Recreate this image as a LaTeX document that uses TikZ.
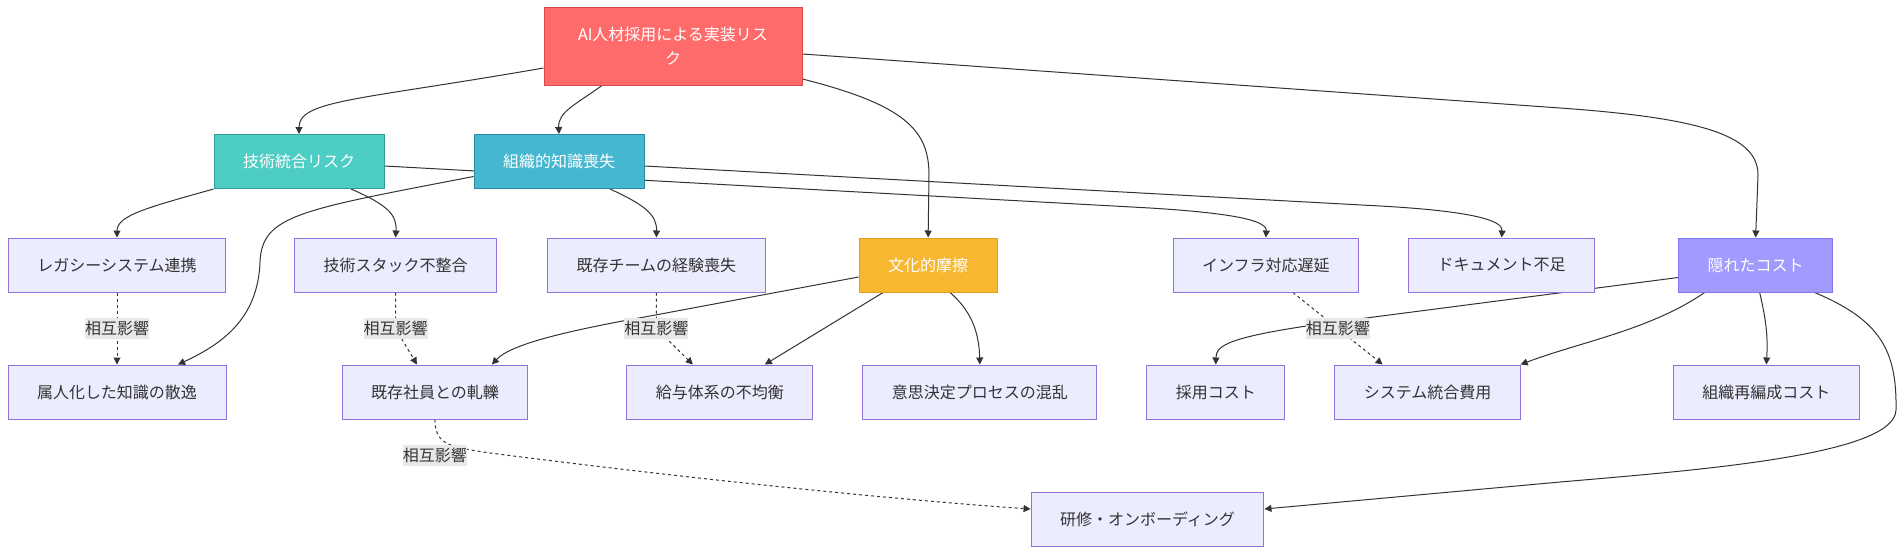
\documentclass[tikz,border=0pt]{standalone}
\usepackage{fontspec}
\setmainfont{Noto Sans CJK JP}
\usepackage{xcolor}
\usepackage{tikz}
\usetikzlibrary{arrows.meta,positioning,backgrounds}

\definecolor{rootfill}{HTML}{FF6B6B}
\definecolor{rootline}{HTML}{D94A4A}
\definecolor{techfill}{HTML}{4ECDC4}
\definecolor{techline}{HTML}{2E9E96}
\definecolor{orgfill}{HTML}{45B7D1}
\definecolor{orgline}{HTML}{2C8BA3}
\definecolor{culturefill}{HTML}{F7B731}
\definecolor{cultureline}{HTML}{E0A020}
\definecolor{hiddenfill}{HTML}{A29BFE}
\definecolor{hiddenline}{HTML}{7F75F0}
\definecolor{leaffill}{HTML}{ECECFF}
\definecolor{leafline}{HTML}{9370DB}
\definecolor{edgecol}{HTML}{333333}
\definecolor{lblfill}{HTML}{E8E8E8}

\begin{document}
\begin{tikzpicture}[
    x=1pt, y=-1pt,
    font=\fontsize{16pt}{24pt}\selectfont,
    box/.style={rectangle, draw, line width=1pt, inner xsep=29pt, minimum height=54pt, align=center},
    leaf/.style={box, fill=leaffill, draw=leafline, text=edgecol},
    rootbox/.style={box, fill=rootfill, draw=rootline, text=white, minimum width=258pt, minimum height=78pt},
    techbox/.style={box, fill=techfill, draw=techline, text=white},
    orgbox/.style={box, fill=orgfill, draw=orgline, text=white},
    culturebox/.style={box, fill=culturefill, draw=cultureline, text=white},
    hiddenbox/.style={box, fill=hiddenfill, draw=hiddenline, text=white},
    arrow/.style={->, >={Triangle[length=7pt, width=7pt]}, draw=edgecol, line width=1pt},
    dotarrow/.style={arrow, dash pattern=on 3pt off 3pt},
    lbl/.style={fill=lblfill, text=edgecol, inner sep=0pt, minimum height=21pt}
]
\useasboundingbox (0,0) rectangle (1904,554);

\node[rootbox] (root) at (673,46) {AI人材採用による実装リス\\ク};

\node[techbox] (tech) at (299,161.5) {技術統合リスク};
\node[orgbox, right=89pt of tech] (org) {組織的知識喪失};

\node[leaf] (legacy) at (117,265) {レガシーシステム連携};
\node[leaf, right=68pt of legacy] (stack) {技術スタック不整合};
\node[leaf, right=50pt of stack] (exp) {既存チームの経験喪失};
\node[culturebox, right=93pt of exp] (culture) {文化的摩擦};
\node[leaf, right=175pt of culture] (infra) {インフラ対応遅延};
\node[leaf, right=49pt of infra] (doc) {ドキュメント不足};
\node[hiddenbox, right=83pt of doc] (hidden) {隠れたコスト};

\node[leaf] (zokujin) at (117,392) {属人化した知識の散逸};
\node[leaf, right=115pt of zokujin] (shain) {既存社員との軋轢};
\node[leaf, right=98pt of shain] (kyuyo) {給与体系の不均衡};
\node[leaf, right=49pt of kyuyo] (ishi) {意思決定プロセスの混乱};
\node[leaf, right=49pt of ishi] (saiyo) {採用コスト};
\node[leaf, right=49pt of saiyo] (togo) {システム統合費用};
\node[leaf, right=152pt of togo] (saihen) {組織再編成コスト};

\node[leaf] (kenshu) at (1147.5,519) {研修・オンボーディング};

\begin{pgfonlayer}{background}
\draw[arrow] ([yshift=-22pt]root.west) .. controls (360,100) and (299,100) .. (tech.north);
\draw[arrow] ([xshift=-71pt]root.south) .. controls (575,105) and (558,112) .. (org.north);
\draw[arrow] ([yshift=-33pt]root.east) .. controls (905,105) and (929,130) .. (929,175) -- (culture.north);
\draw[arrow] ([yshift=-8pt]root.east) -- (1560,108) .. controls (1700,118) and (1758,135) .. (1758,175) -- (hidden.north);

\draw[arrow] (tech.south west) .. controls (150,207) and (117,215) .. (legacy.north);
\draw[arrow] ([xshift=52pt]tech.south) .. controls (388,205) and (397,215) .. (stack.north);
\draw[arrow] ([yshift=-4.5pt]tech.east) -- (1150,208) .. controls (1230,213) and (1267,220) .. (infra.north);

\draw[arrow] ([yshift=-15pt]org.west) .. controls (300,210) and (262,215) .. (260,262) .. controls (258,320) and (220,345) .. ([xshift=61pt]zokujin.north);
\draw[arrow] ([xshift=51pt]org.south) .. controls (645,205) and (657,215) .. (exp.north);
\draw[arrow] ([yshift=-4.5pt]org.east) -- (1380,206) .. controls (1470,211) and (1503,220) .. (doc.north);

\draw[arrow] ([yshift=-12pt]culture.west) -- (650,316) .. controls (560,332) and (510,345) .. ([xshift=57pt]shain.north);
\draw[arrow] ([xshift=-45pt]culture.south) -- ([xshift=45pt]kyuyo.north);
\draw[arrow] ([xshift=22pt]culture.south) .. controls (970,310) and (979,330) .. (ishi.north);

\draw[arrow] ([yshift=-12.5pt]hidden.west) -- (1320,324) .. controls (1230,337) and (1216,345) .. (saiyo.north);
\draw[arrow] ([xshift=-51pt]hidden.south) .. controls (1650,330) and (1580,342) .. ([xshift=93pt]togo.north);
\draw[arrow] ([xshift=4pt]hidden.south) .. controls (1766,320) and (1768,335) .. (saihen.north);
\draw[arrow] ([xshift=59pt]hidden.south) .. controls (1880,320) and (1897,350) .. (1896,410) .. controls (1895,455) and (1700,470) .. (1560,482) -- ([yshift=10pt]kenshu.east);

\draw[dotarrow] (legacy.south) -- node[lbl] {相互影響} (zokujin.north);
\draw[dotarrow] (stack.south) -- ++(0,36) node[lbl] {相互影響} -- ([xshift=-18pt]shain.north);
\draw[dotarrow] (exp.south) -- ++(0,36) node[lbl] {相互影響} -- ([xshift=-27pt]kyuyo.north);
\draw[dotarrow] ([xshift=27pt]infra.south) -- node[lbl] {相互影響} ([xshift=-45pt]togo.north);
\draw[dotarrow] (shain.south) node[lbl, yshift=-36pt] {相互影響} .. controls (435,445) and (450,447) .. (490,453) .. controls (700,480) and (900,500) .. ([yshift=10pt]kenshu.west);
\end{pgfonlayer}
\end{tikzpicture}
\end{document}
